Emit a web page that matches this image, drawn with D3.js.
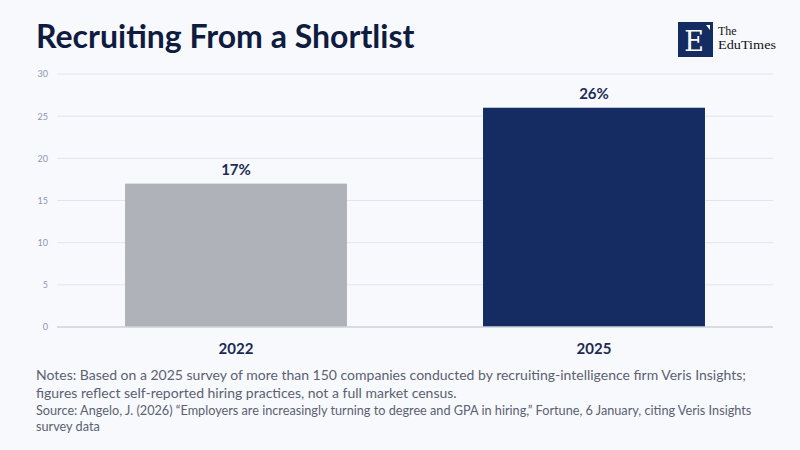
<!DOCTYPE html>
<html><head><meta charset="utf-8">
<script src="https://cdn.jsdelivr.net/npm/d3@7"></script>
<style>
html,body{margin:0;padding:0;background:#f8f9fd;}
svg{display:block;font-family:"Source Sans Pro","Lato","Noto Sans",sans-serif;}
</style></head>
<body>
<script>
const categories = ["2022", "2025"];
const values = [17, 26];
const valueLabels = ["17%", "26%"];
const yTicks = [0, 5, 10, 15, 20, 25, 30];
const barColors = ["#b0b2b9", "#142c61"];

const W = 800, H = 450;
const svg = d3.select("body").append("svg").attr("width", W).attr("height", H);
svg.append("rect").attr("width", W).attr("height", H).attr("fill", "#f8f9fd");

svg.append("text").attr("x", 36).attr("y", 48)
  .attr("font-size", 32).attr("font-weight", 700).attr("fill", "#0f1b3f")
  .text("Recruiting From a Shortlist");

// logo
const logo = svg.append("g");
logo.append("rect").attr("x", 678).attr("y", 22).attr("width", 35).attr("height", 35).attr("fill", "#142c61");
logo.append("text").attr("x", 694).attr("y", 51).attr("text-anchor", "middle")
  .attr("font-family", "DejaVu Serif, Liberation Serif, serif").attr("font-size", 27).attr("fill", "#fff").text("E");
logo.append("path").attr("d", "M706,25 L710,25 L710,30 Z").attr("fill", "#fff");
logo.append("text").attr("x", 718).attr("y", 34.5).attr("font-family", "Liberation Serif, serif")
  .attr("font-size", 12).attr("fill", "#111").text("The");
logo.append("text").attr("x", 718).attr("y", 48.5).attr("font-family", "Liberation Serif, serif")
  .attr("font-size", 12).attr("fill", "#111").attr("textLength", 58).attr("lengthAdjust", "spacingAndGlyphs").text("EduTimes");

const x = d3.scaleBand().domain(categories).range([57, 773]).paddingInner(0.38).paddingOuter(0.19);
const y = d3.scaleLinear().domain([0, 30]).range([327, 74]);

const grid = svg.append("g");
grid.selectAll("line").data(yTicks.filter(t => t > 0)).join("line")
  .attr("x1", 57).attr("x2", 773).attr("y1", d => y(d)).attr("y2", d => y(d))
  .attr("stroke", "#e2e5ee").attr("stroke-width", 1);

const yAxis = svg.append("g").attr("transform", "translate(48,0)")
  .call(d3.axisLeft(y).tickValues(yTicks).tickSize(0).tickPadding(0));
yAxis.select(".domain").remove();
yAxis.selectAll("text").attr("font-size", 9).attr("fill", "#8c96b3")
  .attr("font-family", "'Source Sans Pro','Lato',sans-serif");

svg.selectAll("rect.bar").data(categories).join("rect").attr("class", "bar")
  .attr("x", d => x(d)).attr("width", x.bandwidth())
  .attr("y", (d, i) => y(values[i])).attr("height", (d, i) => y(0) - y(values[i]))
  .attr("fill", (d, i) => barColors[i]);

svg.append("line").attr("x1", 57).attr("x2", 773).attr("y1", y(0)).attr("y2", y(0))
  .attr("stroke", "#cfd2da").attr("stroke-width", 1.5);

svg.selectAll("text.val").data(categories).join("text").attr("class", "val")
  .attr("x", d => x(d) + x.bandwidth() / 2).attr("y", (d, i) => y(values[i]) - 9)
  .attr("text-anchor", "middle").attr("font-size", 15).attr("font-weight", 700).attr("fill", "#1c2c58")
  .text((d, i) => valueLabels[i]);

const xAxis = svg.append("g").attr("transform", `translate(0,${y(0)})`)
  .call(d3.axisBottom(x).tickSize(0).tickPadding(16));
xAxis.select(".domain").remove();
xAxis.selectAll("text").attr("font-size", 15).attr("font-weight", 700).attr("fill", "#1a2a52")
  .attr("font-family", "'Source Sans Pro','Lato',sans-serif");

const notes = ["Notes: Based on a 2025 survey of more than 150 companies conducted by recruiting-intelligence firm Veris Insights;",
  "figures reflect self-reported hiring practices, not a full market census."];
const source = ["Source: Angelo, J. (2026) \u201cEmployers are increasingly turning to degree and GPA in hiring,\u201d Fortune, 6 January, citing Veris Insights",
  "survey data"];
svg.selectAll("text.note").data(notes).join("text").attr("class", "note")
  .attr("x", 36).attr("y", (d, i) => 380 + i * 18)
  .attr("font-size", 14).attr("fill", "#5a6172").text(d => d);
svg.selectAll("text.src").data(source).join("text").attr("class", "src")
  .attr("x", 36).attr("y", (d, i) => 415 + i * 16)
  .attr("font-size", 12.7).attr("fill", "#5a6172").text(d => d);
</script>
</body></html>
